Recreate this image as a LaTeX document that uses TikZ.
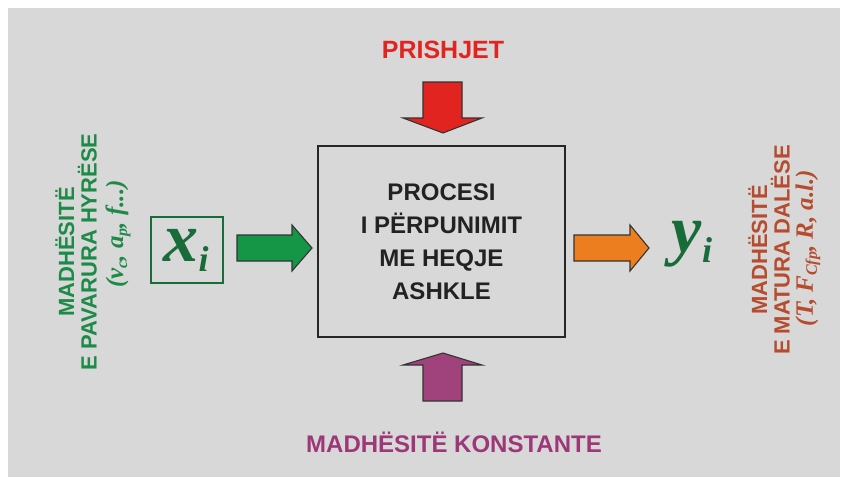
\documentclass[tikz,border=0pt]{standalone}
\usepackage{fontspec}
\setmainfont{Liberation Sans}
\newfontfamily\serifbi{Liberation Serif}
\definecolor{bgc}{RGB}{216,216,216}
\definecolor{gtext}{RGB}{30,138,72}
\definecolor{xgreen}{RGB}{24,108,58}
\definecolor{garrow}{RGB}{20,150,70}
\definecolor{oarrow}{RGB}{236,126,32}
\definecolor{rtext}{RGB}{226,36,32}
\definecolor{ptext}{RGB}{156,56,120}
\definecolor{parrow}{RGB}{160,66,124}
\definecolor{btext}{RGB}{182,76,46}
\definecolor{boxtext}{RGB}{34,34,34}
\newcommand{\mysub}[1]{\raisebox{-4pt}{\fontsize{16}{16}\selectfont #1}}
\begin{document}
\begin{tikzpicture}[x=1pt,y=-1pt,
  sanslbl/.style={font=\fontsize{#1}{#1}\selectfont\bfseries, inner sep=0pt},
  vlbl/.style={font=\fontsize{22}{22}\selectfont\bfseries, align=center, rotate=90, inner sep=0pt},
  vpar/.style={font=\serifbi\bfseries\itshape\fontsize{25}{25}\selectfont, rotate=90, inner sep=0pt},
  blockarrow/.style={draw=black!80, line width=1.1pt, line join=miter}]
\useasboundingbox (0,0) rectangle (841,477);
\fill[bgc] (8,8) rectangle (840,477);

% main process box
\node[draw=black!85, line width=2pt, minimum width=247pt, minimum height=191pt, inner sep=0pt]
  (proc) at (441.5,241.5) {};
\node[font=\fontsize{24}{33}\selectfont\bfseries, text=boxtext, align=center, inner sep=0pt]
  (proctxt) at (441.5,242) {PROCESI\\I PËRPUNIMIT\\ME HEQJE\\ASHKLE};

% top label and arrow
\node[sanslbl=25, text=rtext] (prishjet) at (443,50) {PRISHJET};
\filldraw[blockarrow, fill=rtext]
  (423,82) -- (462,82) -- (462,118) -- (482,118) -- (443,133) -- (403,118) -- (423,118) -- cycle;

% bottom label and arrow
\node[sanslbl=24, text=ptext] (konst) at (454,442) {MADHËSITË KONSTANTE};
\filldraw[blockarrow, fill=parrow]
  (423,401) -- (462,401) -- (462,365) -- (482,365) -- (443,353) -- (403,365) -- (423,365) -- cycle;

% input
\node[draw=xgreen, line width=1.3pt, minimum width=72pt, minimum height=66pt, inner sep=0pt]
  (xbox) at (187,250) {};
\node[text=xgreen, inner sep=0pt] (xi) at (186,250)
  {\serifbi\bfseries\itshape\fontsize{70}{70}\selectfont x\raisebox{-10pt}{\fontsize{36}{36}\selectfont i}};
\filldraw[blockarrow, fill=garrow]
  (237,235) -- (292,235) -- (292,225) -- (312,248) -- (292,271) -- (292,261) -- (237,261) -- cycle;

% output
\filldraw[blockarrow, fill=oarrow]
  (574,235) -- (630,235) -- (630,225) -- (649,248) -- (630,271) -- (630,261) -- (574,261) -- cycle;
\node[text=xgreen, inner sep=0pt] (yi) at (692,244)
  {\serifbi\bfseries\itshape\fontsize{68}{68}\selectfont y\raisebox{-10pt}{\fontsize{36}{36}\selectfont i}};

% left vertical labels
\node[vlbl, text=gtext, font=\fontsize{22}{22.5}\selectfont\bfseries] (inlbl) at (76,252) {MADHËSITË\\E PAVARURA HYRËSE};
\node[vpar, text=gtext] (inpar) at (118,234)
  {(v\mysub{c}, a\mysub{p}, f...)};

% right vertical labels
\node[vlbl, text=btext, font=\fontsize{22}{22.5}\selectfont\bfseries] (outlbl) at (769,250) {MADHËSITË\\E MATURA DALËSE};
\node[vpar, text=btext] (outpar) at (808,248)
  {(T, F\mysub{Cfp}, R, a.l.)};
\end{tikzpicture}
\end{document}
